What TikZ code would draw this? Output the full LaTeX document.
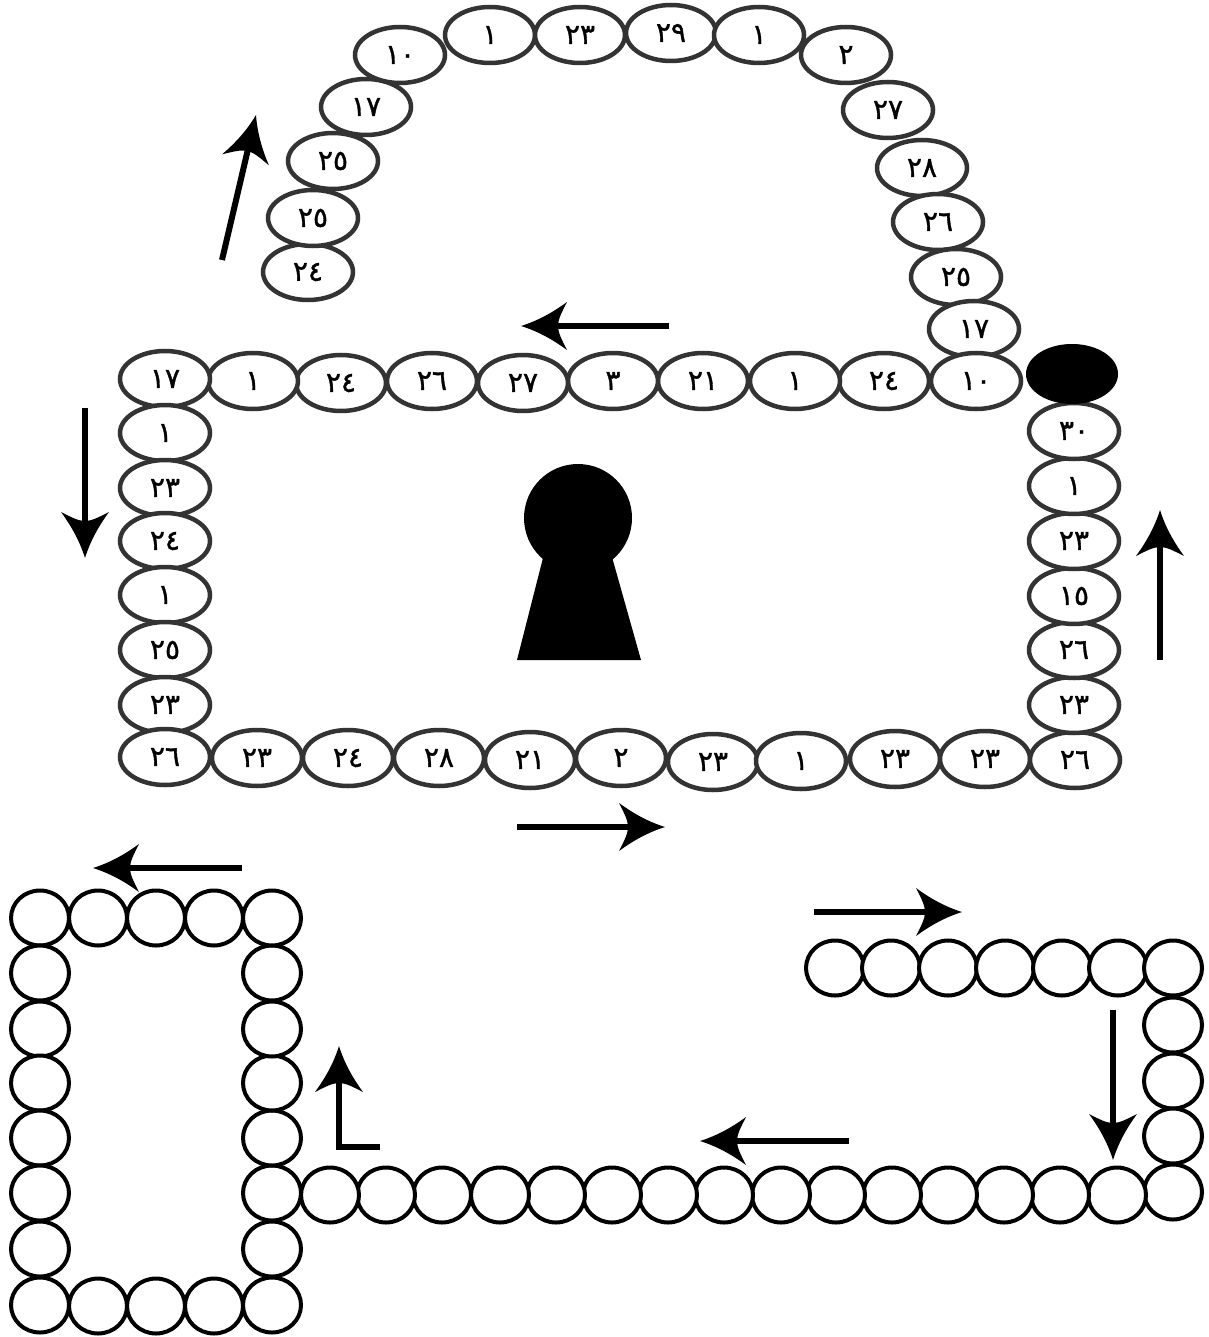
\documentclass[tikz,border=0pt]{standalone}
\usepackage{fontspec}
\usetikzlibrary{shapes.geometric}
\newfontfamily\arabicfont[Script=Arabic,RawFeature={embolden=1.2}]{DejaVu Sans}
\tikzset{
  egg/.style={ellipse,draw=black!80,line width=4.5pt,fill=white,minimum width=90pt,minimum height=56pt,inner sep=0pt,font=\arabicfont\fontsize{28}{28}\selectfont,text=black},
  blackegg/.style={ellipse,draw=black,line width=1pt,fill=black,minimum width=91pt,minimum height=59pt,inner sep=0pt},
  ring/.style={ellipse,draw=black,line width=4pt,fill=white,minimum width=58pt,minimum height=55pt,inner sep=0pt},
  flow/.style={line width=6pt,shorten >=30pt},
  head/.pic={\fill[black] (0,0) .. controls (-16,5) and (-31,13) .. (-46,24) .. controls (-41,14) and (-37,7) .. (-37,0) .. controls (-37,-7) and (-41,-14) .. (-46,-24) .. controls (-31,-13) and (-16,-5) .. (0,0) -- cycle;}
}
\begin{document}
\begin{tikzpicture}[x=1pt,y=-1pt]
\useasboundingbox (0,0) rectangle (1208,1337);
% padlock shackle and body
\foreach \x/\y/\t [count=\i] in {
 308/272/٢٤,313/218/٢٥,333/161/٢٥,366/107/١٧,400/55/١٠,490/35/١,580/35/٢٣,671/33/٢٩,759/35/١,846/55/٢,
 888/110/٢٧,922/168/٢٨,938/222/٢٦,956/277/٢٥,974/329/١٧,976/381/١٠,
 884/381/٢٤,795/381/١,703/381/٢١,613/381/٣,523/383/٢٧,432/381/٢٦,341/383/٢٤,253/381/١,165/379/١٧,
 165/433/١,165/488/٢٣,165/541/٢٤,165/595/١,165/650/٢٥,165/705/٢٣,165/757/٢٦,
 257/758/٢٣,348/758/٢٤,439/758/٢٨,530/760/٢١,621/758/٢,713/762/٢٣,801/761/١,895/759/٢٣,985/759/٢٣,1075/760/٢٦,
 1074/705/٢٣,1074/650/٢٦,1074/596/١٥,1074/541/٢٣,1074/486/١,1074/431/٣٠}
 {\node[egg] (e\i) at (\x,\y) {\t};}
\node[blackegg] (stone) at (1072,374) {};
% empty beads
\foreach \x/\y [count=\i] in {
 835/968,891/968,948/968,1005/968,1062/968,1118/968,1173/968,1173/1025,1173/1081,1173/1136,1173/1192,
 1117/1195,1060/1195,1004/1195,948/1195,892/1195,836/1195,781/1195,724/1195,668/1195,612/1195,556/1195,500/1195,442/1195,386/1195,330/1195,
 272/1193,272/1138,272/1083,272/1029,272/973,272/918,214/918,156/918,98/918,40/918,
 40/973,40/1029,40/1083,40/1138,40/1193,40/1249,40/1305,98/1306,156/1306,214/1306,272/1305,272/1249}
 {\node[ring] (r\i) at (\x,\y) {};}
% keyhole
\fill[black] (578,518) circle[radius=54pt];
\fill[black] (545,550) -- (610,550) -- (641,660) -- (517,660) -- cycle;
% arrows
\coordinate (a1s) at (669,326); \coordinate (a1e) at (521,326);
\coordinate (a2s) at (222,260); \coordinate (a2e) at (256,115);
\coordinate (a3s) at (85,408);  \coordinate (a3e) at (85,558);
\coordinate (a4s) at (1160,660);\coordinate (a4e) at (1160,510);
\coordinate (a5s) at (517,827); \coordinate (a5e) at (665,827);
\coordinate (a6s) at (242,868); \coordinate (a6e) at (93,868);
\coordinate (a7s) at (814,912); \coordinate (a7e) at (962,912);
\coordinate (a8s) at (1113,1010);\coordinate (a8e) at (1113,1160);
\coordinate (a9s) at (849,1141);\coordinate (a9e) at (700,1141);
\coordinate (a10s) at (380,1147);\coordinate (a10m) at (339,1147);\coordinate (a10e) at (339,1046);
\foreach \k/\r in {1/180,2/76.8,3/-90,4/90,5/0,6/180,7/0,8/-90,9/180} {
  \draw[flow] (a\k s) -- (a\k e);
  \pic[rotate=\r] at (a\k e) {head};
}
\draw[flow,line join=miter] (a10s) -- (a10m) -- (a10e);
\pic[rotate=90] at (a10e) {head};
\end{tikzpicture}
\end{document}
